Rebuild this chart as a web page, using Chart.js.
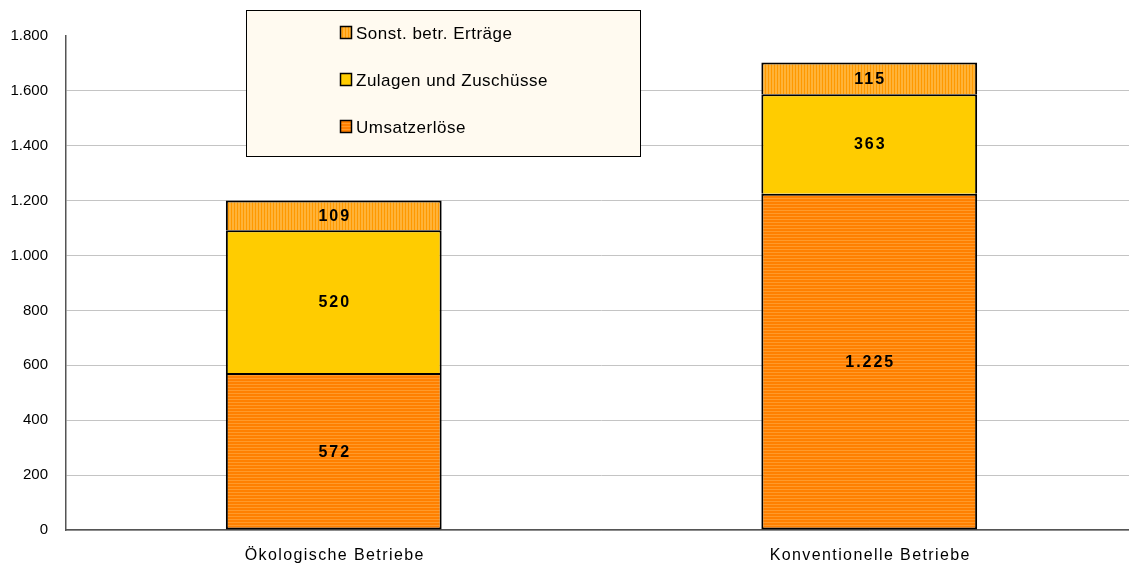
<!DOCTYPE html>
<html>
<head>
<meta charset="utf-8">
<script src="https://cdn.jsdelivr.net/npm/chart.js@4"></script>
<style>
  html, body { margin: 0; padding: 0; background: #fff; overflow: hidden; }
  #wrap { width: 1138px; height: 567px; }
</style>
</head>
<body>
<div id="wrap"><canvas id="myChart"></canvas></div>
<script>
'use strict';

let categories = ['Ökologische Betriebe', 'Konventionelle Betriebe'];
let umsatz = [572, 1225];
let zulagen = [520, 363];
let sonstige = [109, 115];
let yTicks = [0, 200, 400, 600, 800, 1000, 1200, 1400, 1600, 1800];

let fontName = '"Liberation Sans", Arial, sans-serif';

function stripePattern(base, line, vertical) {
    let c = document.createElement('canvas');
    c.width = 3;
    c.height = 3;
    let g = c.getContext('2d');
    g.fillStyle = base;
    g.fillRect(0, 0, 3, 3);
    g.fillStyle = line;
    if (vertical) {
        g.fillRect(0, 0, 1, 3);
    } else {
        g.fillRect(0, 0, 3, 1);
    }
    return g.createPattern(c, 'repeat');
}

let umsatzFill = stripePattern('#ff8000', '#ff9a2a', false);
let zulagenFill = '#ffcc00';
let sonstFill = stripePattern('#ffb338', '#ff9900', true);

function fmt(v) {
    return v.toLocaleString('de-DE');
}

// value labels inside the bar segments
let segmentLabels = {
    id: 'segmentLabels',
    afterDatasetsDraw(chart) {
        let ctx = chart.ctx;
        ctx.save();
        ctx.font = 'bold 16px ' + fontName;
        ctx.fillStyle = '#000';
        ctx.textAlign = 'center';
        ctx.textBaseline = 'middle';
        ctx.letterSpacing = '2px';
        chart.data.datasets.forEach((ds, i) => {
            chart.getDatasetMeta(i).data.forEach((bar, j) => {
                let mid = (bar.y + bar.base) / 2;
                ctx.fillText(fmt(ds.data[j]), bar.x + 1, mid + 1);
            });
        });
        ctx.restore();
    }
};

// category names under the x axis (spaced out like the original)
let categoryLabels = {
    id: 'categoryLabels',
    afterDraw(chart) {
        let ctx = chart.ctx;
        let xs = chart.scales.x;
        ctx.save();
        ctx.font = '16px ' + fontName;
        ctx.letterSpacing = '1.4px';
        ctx.fillStyle = '#000';
        ctx.textAlign = 'center';
        ctx.textBaseline = 'middle';
        categories.forEach((name, i) => {
            ctx.fillText(name, xs.getPixelForValue(i) + 1, 556);
        });
        ctx.restore();
    }
};

// legend box drawn inside the plot
let boxLegend = {
    id: 'boxLegend',
    afterDraw(chart) {
        let ctx = chart.ctx;
        ctx.save();
        ctx.fillStyle = '#fffaf0';
        ctx.fillRect(246.5, 10.5, 394, 146);
        ctx.strokeStyle = '#000';
        ctx.lineWidth = 1;
        ctx.strokeRect(246.5, 10.5, 394, 146);
        let items = chart.data.datasets.slice().reverse();
        ctx.font = '17px ' + fontName;
        ctx.letterSpacing = '0.5px';
        ctx.textBaseline = 'middle';
        ctx.textAlign = 'left';
        items.forEach((ds, k) => {
            let y = 33 + k * 47;
            ctx.fillStyle = ds.backgroundColor;
            ctx.fillRect(340.5, y - 6.5, 11, 12);
            ctx.lineWidth = 1.5;
            ctx.strokeStyle = '#000';
            ctx.strokeRect(340.5, y - 6.5, 11, 12);
            ctx.fillStyle = '#000';
            ctx.fillText(ds.label, 356, y + 1);
        });
        ctx.restore();
    }
};

let ctx = document.getElementById('myChart').getContext('2d');

let myChart = new Chart(ctx, {
    type: 'bar',
    data: {
        labels: categories,
        datasets: [{
            label: 'Umsatzerlöse',
            data: umsatz,
            backgroundColor: umsatzFill,
            borderColor: '#000',
            borderWidth: 2,
            borderSkipped: false
        }, {
            label: 'Zulagen und Zuschüsse',
            data: zulagen,
            backgroundColor: zulagenFill,
            borderColor: '#000',
            borderWidth: 2,
            borderSkipped: 'start'
        }, {
            label: 'Sonst. betr. Erträge',
            data: sonstige,
            backgroundColor: sonstFill,
            borderColor: '#000',
            borderWidth: 2,
            borderSkipped: 'start'
        }]
    },
    options: {
        responsive: true,
        maintainAspectRatio: false,
        animation: false,
        layout: {
            padding: { top: 36, right: 1, left: 0, bottom: 0 }
        },
        datasets: {
            bar: {
                categoryPercentage: 1,
                barPercentage: 0.403
            }
        },
        plugins: {
            legend: { display: false },
            tooltip: { enabled: false }
        },
        scales: {
            x: {
                stacked: true,
                grid: { display: false },
                border: { color: '#555', width: 1.5 },
                ticks: { display: false },
                afterFit(scale) {
                    scale.height = 37;
                }
            },
            y: {
                stacked: true,
                min: 0,
                max: 1800,
                afterBuildTicks(scale) {
                    scale.ticks = yTicks.map(v => ({ value: v }));
                },
                grid: {
                    color(c) {
                        return c.tick && c.tick.value === 1800 ? 'rgba(0,0,0,0)' : '#c4c4c4';
                    },
                    lineWidth: 1,
                    drawTicks: false
                },
                border: { color: '#555', width: 1.5 },
                ticks: {
                    color: '#000',
                    padding: 18,
                    font: { family: fontName, size: 15 },
                    callback(v) {
                        return fmt(v);
                    }
                },
                afterFit(scale) {
                    scale.width = 66;
                }
            }
        }
    },
    plugins: [segmentLabels, categoryLabels, boxLegend]
});
</script>
</body>
</html>
